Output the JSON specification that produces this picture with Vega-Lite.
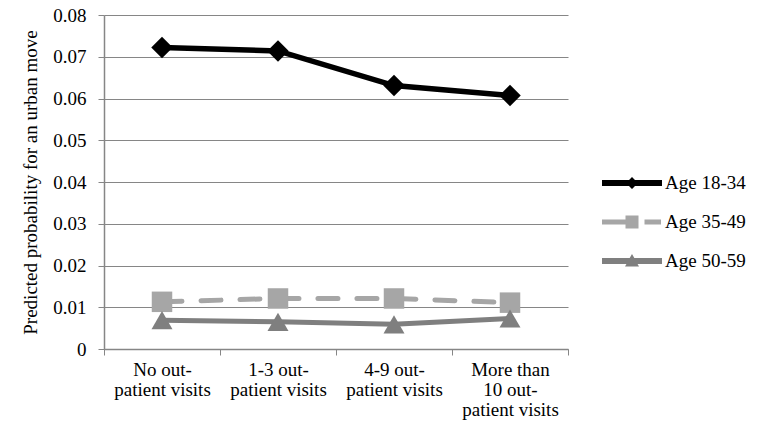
{
  "$schema": "https://vega.github.io/schema/vega-lite/v6.json",
  "width": 464,
  "height": 334,
  "autosize": {"type": "none"},
  "padding": {"left": 104, "top": 15, "right": 193, "bottom": 84},
  "background": "white",
  "config": {
    "font": "Liberation Serif",
    "view": {"stroke": null}
  },
  "data": {
    "values": [
      {"visits": "No out-|patient visits", "group": "Age 18-34", "p": 0.0722},
      {"visits": "1-3 out-|patient visits", "group": "Age 18-34", "p": 0.0714},
      {"visits": "4-9 out-|patient visits", "group": "Age 18-34", "p": 0.0631},
      {"visits": "More than|10 out-|patient visits", "group": "Age 18-34", "p": 0.0607},
      {"visits": "No out-|patient visits", "group": "Age 35-49", "p": 0.0113},
      {"visits": "1-3 out-|patient visits", "group": "Age 35-49", "p": 0.0121},
      {"visits": "4-9 out-|patient visits", "group": "Age 35-49", "p": 0.0121},
      {"visits": "More than|10 out-|patient visits", "group": "Age 35-49", "p": 0.0111},
      {"visits": "No out-|patient visits", "group": "Age 50-59", "p": 0.0069},
      {"visits": "1-3 out-|patient visits", "group": "Age 50-59", "p": 0.0065},
      {"visits": "4-9 out-|patient visits", "group": "Age 50-59", "p": 0.0059},
      {"visits": "More than|10 out-|patient visits", "group": "Age 50-59", "p": 0.0073}
    ]
  },
  "encoding": {
    "x": {
      "field": "visits",
      "type": "nominal",
      "sort": null,
      "scale": {"type": "band", "paddingInner": 0, "paddingOuter": 0},
      "axis": {
        "title": null,
        "labelExpr": "split(datum.label, '|')",
        "labelAngle": 0,
        "labelFont": "Liberation Serif",
        "labelFontSize": 19,
        "labelColor": "black",
        "labelLineHeight": 20,
        "labelPadding": 5,
        "tickBand": "extent",
        "tickSize": 6,
        "tickColor": "#868686",
        "domainColor": "#868686",
        "domainWidth": 1.5,
        "grid": false,
        "labelBaseline": "top"
      }
    },
    "y": {
      "field": "p",
      "type": "quantitative",
      "scale": {"domain": [0, 0.08]},
      "axis": {
        "title": "Predicted probability for an urban move",
        "titleFont": "Liberation Serif",
        "titleFontSize": 19,
        "titleFontWeight": "normal",
        "titleColor": "black",
        "titlePadding": 12,
        "values": [0, 0.01, 0.02, 0.03, 0.04, 0.05, 0.06, 0.07, 0.08],
        "labelExpr": "datum.value == 0 ? '0' : format(datum.value, '.2f')",
        "labelFont": "Liberation Serif",
        "labelFontSize": 19,
        "labelColor": "black",
        "labelPadding": 12,
        "tickSize": 6,
        "tickColor": "#868686",
        "domainColor": "#868686",
        "domainWidth": 1.5,
        "gridColor": "#868686",
        "gridWidth": 1.2
      }
    }
  },
  "layer": [
    {
      "transform": [{"filter": "datum.group == 'Age 18-34'"}],
      "mark": {"type": "line", "strokeCap": "round", "color": "#000000", "strokeWidth": 5.5}
    },
    {
      "transform": [{"filter": "datum.group == 'Age 35-49'"}],
      "mark": {"type": "line", "strokeCap": "round", "color": "#a6a6a6", "strokeWidth": 5, "strokeDash": [20, 19]}
    },
    {
      "transform": [{"filter": "datum.group == 'Age 50-59'"}],
      "mark": {"type": "line", "strokeCap": "round", "color": "#7f7f7f", "strokeWidth": 5}
    },
    {
      "transform": [{"filter": "datum.group == 'Age 18-34'"}],
      "mark": {"type": "point", "filled": true, "opacity": 1, "color": "#000000", "shape": "diamond", "size": 460}
    },
    {
      "transform": [{"filter": "datum.group == 'Age 35-49'"}],
      "mark": {"type": "point", "filled": true, "opacity": 1, "color": "#a6a6a6", "shape": "square", "size": 420}
    },
    {
      "transform": [{"filter": "datum.group == 'Age 50-59'"}],
      "mark": {"type": "point", "filled": true, "opacity": 1, "color": "#7f7f7f", "shape": "triangle-up", "size": 440}
    },
    {
      "mark": {"type": "point", "filled": true, "opacity": 0},
      "encoding": {
        "color": {
          "field": "group",
          "type": "nominal",
          "scale": {"domain": ["Age 18-34", "Age 35-49", "Age 50-59"], "range": ["#000000", "#a6a6a6", "#7f7f7f"]},
          "legend": {
            "title": null,
            "orient": "none",
            "legendX": 518,
            "legendY": 158,
            "padding": 0,
            "labelFont": "Liberation Serif",
            "labelFontSize": 19,
            "labelColor": "black",
            "rowPadding": 19,
            "symbolSize": 400,
            "symbolStrokeWidth": 0,
            "symbolOpacity": 1,
            "labelOffset": 23,
            "encode": {
              "symbols": {
                "update": {
                  "opacity": {"value": 1},
                  "strokeWidth": {"value": 0}
                }
              }
            }
          }
        },
        "shape": {
          "field": "group",
          "type": "nominal",
          "scale": {
            "domain": ["Age 18-34", "Age 35-49", "Age 50-59"],
            "range": [
              "M-3,-0.3H-0.3L0,-0.6L0.3,-0.3H3V0.3H0.3L0,0.6L-0.3,0.3H-3Z",
              "M-3,-0.25H-0.65V-0.65H0.65V0.65H-0.65V0.25H-3Z M1.25,-0.25H2.9V0.25H1.25Z",
              "M-3,-0.3H-0.232L0,-0.7L0.232,-0.3H3V0.3H0.556L0.7,0.55H-0.7L-0.556,0.3H-3Z"
            ]
          }
        }
      }
    }
  ]
}
